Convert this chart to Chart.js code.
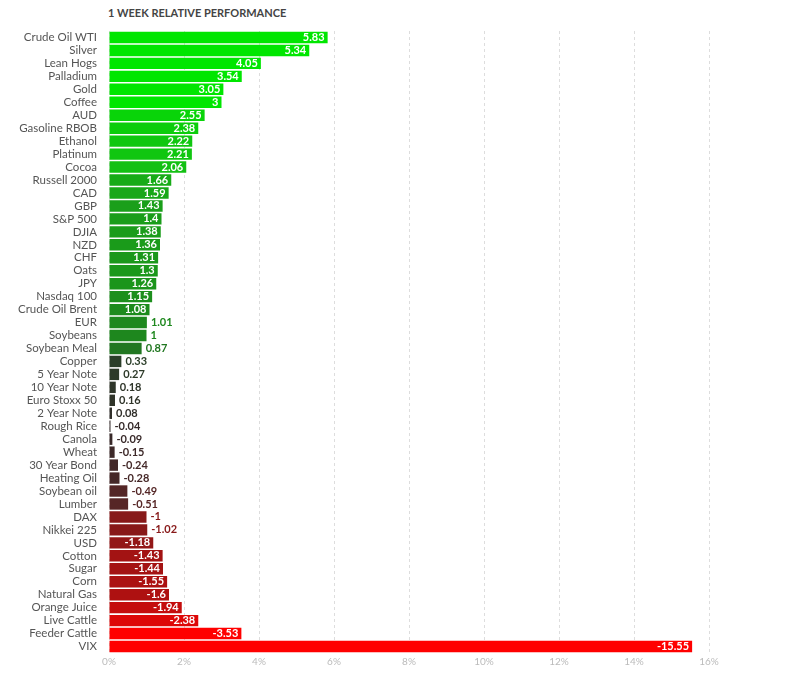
<!DOCTYPE html><html><head><script src="https://cdn.jsdelivr.net/npm/chart.js@4"></script>
<style>body{margin:0;background:#fff;font-family:Lato}#w{position:absolute;left:0;top:0;width:800px;height:685px}
#t{position:absolute;left:108px;top:6px;font:bold 11px Lato;color:#444}</style></head><body>
<div id="t">1 WEEK RELATIVE PERFORMANCE</div><div id="w"><canvas id="c"></canvas></div>
<script>
const categories=["Crude Oil WTI","Silver","Lean Hogs","Palladium","Gold","Coffee","AUD","Gasoline RBOB","Ethanol","Platinum","Cocoa","Russell 2000","CAD","GBP","S&P 500","DJIA","NZD","CHF","Oats","JPY","Nasdaq 100","Crude Oil Brent","EUR","Soybeans","Soybean Meal","Copper","5 Year Note","10 Year Note","Euro Stoxx 50","2 Year Note","Rough Rice","Canola","Wheat","30 Year Bond","Heating Oil","Soybean oil","Lumber","DAX","Nikkei 225","USD","Cotton","Sugar","Corn","Natural Gas","Orange Juice","Live Cattle","Feeder Cattle","VIX"];
const values=[5.83,5.34,4.05,3.54,3.05,3,2.55,2.38,2.22,2.21,2.06,1.66,1.59,1.43,1.4,1.38,1.36,1.31,1.3,1.26,1.15,1.08,1.01,1,0.87,0.33,0.27,0.18,0.16,0.08,-0.04,-0.09,-0.15,-0.24,-0.28,-0.49,-0.51,-1,-1.02,-1.18,-1.43,-1.44,-1.55,-1.6,-1.94,-2.38,-3.53,-15.55];
const tickLabels=["0%","2%","4%","6%","8%","10%","12%","14%","16%"];
const stops=[[-3,[255,0,0]],[-2,[200,12,12]],[-1,[135,25,25]],[-0.5,[85,38,38]],[0,[50,42,42]],[0.5,[40,72,40]],[1,[30,135,30]],[2,[20,190,20]],[3,[0,230,0]]];
function col(v){if(v<=-3)return'rgb(255,0,0)';if(v>=3)return'rgb(0,230,0)';
for(let i=0;i<stops.length-1;i++){const[a,ca]=stops[i],[b,cb]=stops[i+1];if(v>=a&&v<=b){const t=(v-a)/(b-a);return'rgb('+ca.map((c,k)=>Math.round(c+(cb[k]-c)*t)).join(',')+')';}}}
const colors=values.map(col);
const lbl={id:'lbl',afterDatasetsDraw(ch){const ctx=ch.ctx;const m=ch.getDatasetMeta(0);ctx.save();ctx.font='bold 11px Lato';ctx.textBaseline='middle';
m.data.forEach((b,i)=>{const v=values[i];const s=String(v);if(Math.abs(v)>=1.05){ctx.fillStyle='#fff';ctx.textAlign='right';ctx.fillText(s,b.x-3,b.y);}else{ctx.fillStyle=colors[i];ctx.textAlign='left';ctx.fillText(s,b.x+4,b.y);}});ctx.restore();}};
new Chart(document.getElementById('c'),{type:'bar',data:{labels:categories,datasets:[{data:values.map(Math.abs),backgroundColor:colors,barPercentage:0.88,categoryPercentage:1}]},
options:{indexAxis:'y',responsive:true,maintainAspectRatio:false,animation:false,layout:{padding:{top:31,right:91,bottom:14,left:0}},
plugins:{legend:{display:false},tooltip:{enabled:false}},
scales:{x:{min:0,max:16,ticks:{stepSize:2,callback:(v,i)=>tickLabels[i],color:'#bbb',font:{family:'Lato',size:10}},grid:{color:'#ddd',borderDash:[3,3],drawTicks:false},border:{display:false,dash:[3,3]}},
y:{afterFit:s=>{s.width=109;},ticks:{color:'#555',font:{family:'Lato',size:11.5},padding:4,autoSkip:false},grid:{display:false},border:{display:false}}}},plugins:[lbl]});
</script></body></html>
